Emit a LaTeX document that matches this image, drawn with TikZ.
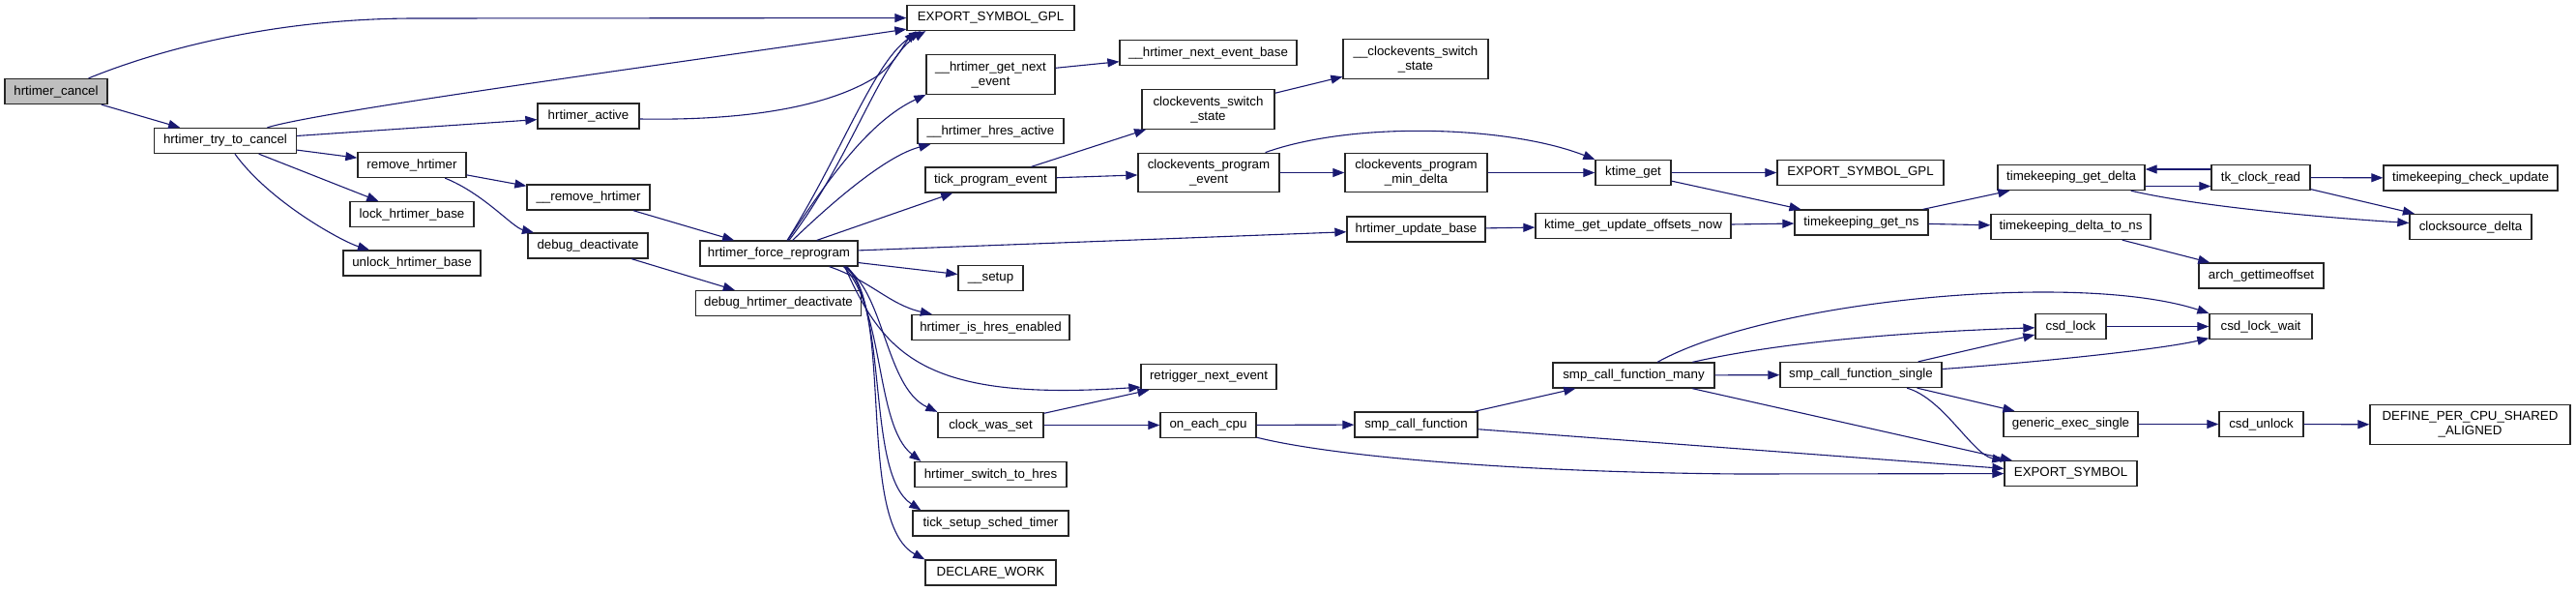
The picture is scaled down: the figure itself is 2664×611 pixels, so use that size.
\documentclass[tikz,border=0pt]{standalone}
\usepackage{fontspec}
\setmainfont{Liberation Sans}
\usetikzlibrary{arrows.meta}
\definecolor{edgeblue}{RGB}{25,25,112}
\begin{document}
\begin{tikzpicture}[x=1pt,y=-1pt,>={Triangle[length=12pt,width=9pt]},font=\fontsize{13.3}{15}\selectfont,
	fn/.style={draw=black!85,line width=1.3pt,fill=white,minimum height=26pt,inner sep=1pt,align=center},
	fntwo/.style={fn,minimum height=40.5pt},
	call/.style={->,draw=edgeblue,line width=1.1pt}]
	\useasboundingbox (0,0) rectangle (2664,611);
	% column 1-5
	\node[fn,minimum width=106pt,fill=black!25] (cancel) at (58,94.5) {hrtimer\_cancel};
	\node[fn,minimum width=147pt] (trycancel) at (233,145.5) {hrtimer\_try\_to\_cancel};
	\node[fn,minimum width=105pt] (active) at (608.5,120) {hrtimer\_active};
	\node[fn,minimum width=112pt] (remove) at (426,170.5) {remove\_hrtimer};
	\node[fn,minimum width=127pt] (removeb) at (608.5,204) {\_\_remove\_hrtimer};
	\node[fn,minimum width=128pt] (lockb) at (426,221.5) {lock\_hrtimer\_base};
	\node[fn,minimum width=124pt] (debugd) at (608,254) {debug\_deactivate};
	\node[fn,minimum width=142pt] (unlockb) at (426,272) {unlock\_hrtimer\_base};
	\node[fn,minimum width=163pt] (force) at (805.5,262) {hrtimer\_force\_reprogram};
	\node[fn,minimum width=171pt] (debughd) at (805,313.5) {debug\_hrtimer\_deactivate};
	% column 6
	\node[fn,minimum width=173pt] (esgpl) at (1024.5,18.5) {EXPORT\_SYMBOL\_GPL};
	\node[fntwo,minimum width=133pt] (getnext) at (1024.5,77) {\_\_hrtimer\_get\_next\\\_event};
	\node[fn,minimum width=151pt] (hresact) at (1024.5,135.5) {\_\_hrtimer\_hres\_active};
	\node[fn,minimum width=135pt] (tickprog) at (1024.5,186) {tick\_program\_event};
	\node[fn,minimum width=67pt] (setup) at (1024.5,287.5) {\_\_setup};
	\node[fn,minimum width=163pt] (hresen) at (1024.5,338.5) {hrtimer\_is\_hres\_enabled};
	\node[fn,minimum width=109pt] (cws) at (1024.5,439.5) {clock\_was\_set};
	\node[fn,minimum width=157pt] (switchhres) at (1024.5,490.5) {hrtimer\_switch\_to\_hres};
	\node[fn,minimum width=161pt] (ticksetup) at (1024.5,541) {tick\_setup\_sched\_timer};
	\node[fn,minimum width=135pt] (declwork) at (1024.5,592) {DECLARE\_WORK};
	% column 7-8
	\node[fn,minimum width=183pt] (nextbase) at (1249.5,54.5) {\_\_hrtimer\_next\_event\_base};
	\node[fntwo,minimum width=137pt] (cswitch) at (1249.5,113) {clockevents\_switch\\\_state};
	\node[fntwo,minimum width=146pt] (cprog) at (1250,178.5) {clockevents\_program\\\_event};
	\node[fn,minimum width=140pt] (retrig) at (1250,389.5) {retrigger\_next\_event};
	\node[fn,minimum width=99pt] (oneach) at (1249.5,439.5) {on\_each\_cpu};
	\node[fntwo,minimum width=150pt] (cswitchb) at (1464,61) {\_\_clockevents\_switch\\\_state};
	\node[fntwo,minimum width=147pt] (cmin) at (1464.5,178.5) {clockevents\_program\\\_min\_delta};
	\node[fn,minimum width=143pt] (updbase) at (1464.5,237) {hrtimer\_update\_base};
	\node[fn,minimum width=127pt] (scf) at (1464.5,439) {smp\_call\_function};
	% column 9-10
	\node[fn,minimum width=78pt] (ktime) at (1689,178.5) {ktime\_get};
	\node[fn,minimum width=202pt] (updoff) at (1689,233.5) {ktime\_get\_update\_offsets\_now};
	\node[fn,minimum width=167pt] (scfmany) at (1689.5,388) {smp\_call\_function\_many};
	\node[fn,minimum width=172pt] (esgplb) at (1924,178.5) {EXPORT\_SYMBOL\_GPL};
	\node[fn,minimum width=138pt] (tkns) at (1925,230) {timekeeping\_get\_ns};
	\node[fn,minimum width=167pt] (scfsingle) at (1924.5,387.5) {smp\_call\_function\_single};
	% column 11-13
	\node[fn,minimum width=152pt] (tkdelta) at (2142,183.5) {timekeeping\_get\_delta};
	\node[fn,minimum width=165pt] (tkdns) at (2141.5,234.5) {timekeeping\_delta\_to\_ns};
	\node[fn,minimum width=73pt] (csdlock) at (2141.5,337.5) {csd\_lock};
	\node[fn,minimum width=139pt] (genexec) at (2141.5,438.5) {generic\_exec\_single};
	\node[fn,minimum width=137pt] (es) at (2141.5,489.5) {EXPORT\_SYMBOL};
	\node[fn,minimum width=102pt] (tkread) at (2338,183.5) {tk\_clock\_read};
	\node[fn,minimum width=129pt] (archoff) at (2338.5,285) {arch\_gettimeoffset};
	\node[fn,minimum width=106pt] (csdwait) at (2338,337.5) {csd\_lock\_wait};
	\node[fn,minimum width=87pt] (csdunlock) at (2338.5,438.5) {csd\_unlock};
	\node[fn,minimum width=180pt] (tkcheck) at (2555,184) {timekeeping\_check\_update};
	\node[fn,minimum width=126pt] (csdelta) at (2555,234.5) {clocksource\_delta};
	\node[fntwo,minimum width=207pt] (defpcpu) at (2554.5,439) {DEFINE\_PER\_CPU\_SHARED\\\_ALIGNED};

	% calls
	\draw[call] (cancel) .. controls (180,45) and (300,19) .. (430,19) -- (esgpl);
	\draw[call] (cancel) -- (trycancel);
	\draw[call] (trycancel) .. controls (330,115) and (700,65) .. ([yshift=2pt]esgpl.south west);
	\draw[call] (trycancel) -- (active);
	\draw[call] (trycancel) -- (remove);
	\draw[call] (trycancel) -- (lockb);
	\draw[call] (trycancel) .. controls (280,210) and (355,250) .. (unlockb);
	\draw[call] ([yshift=-3pt]active.east) .. controls (780,125) and (860,108) .. (905,80) .. controls (925,67) and (935,45) .. ([xshift=10pt]esgpl.south west);
	\draw[call] (remove) -- (removeb);
	\draw[call] (remove) .. controls (500,200) and (530,235) .. (debugd);
	\draw[call] (removeb) -- (force);
	\draw[call] (debugd) -- (debughd);
	\draw[call] (force) .. controls (870,160) and (905,60) .. ([xshift=15pt]esgpl.south west);
	\draw[call] (force) .. controls (880,165) and (912,58) .. ([xshift=20pt]esgpl.south west);
	\draw[call] (force) .. controls (860,180) and (900,125) .. (getnext.south west);
	\draw[call] (force) .. controls (870,200) and (920,160) .. ([xshift=14pt]hresact.south west);
	\draw[call] (force) -- (tickprog);
	\draw[call] (force) -- (updbase);
	\draw[call] (force) -- (setup);
	\draw[call] ([xshift=-30pt]force.south east) .. controls (900,290) and (920,315) .. (hresen);
	\draw[call] ([xshift=-14pt]force.south east) .. controls (915,370) and (960,415) .. ([yshift=3pt]retrig.south west);
	\draw[call] ([xshift=-15pt]force.south east) .. controls (915,300) and (915,400) .. (cws.north west);
	\draw[call] ([xshift=-15pt]force.south east) .. controls (915,320) and (905,440) .. ([xshift=7pt]switchhres.north west);
	\draw[call] ([xshift=-13pt]force.south east) .. controls (920,320) and (895,490) .. ([xshift=9pt]ticksetup.north west);
	\draw[call] ([xshift=-12pt]force.south east) .. controls (925,320) and (885,540) .. (declwork.north west);
	\draw[call] (getnext) -- (nextbase);
	\draw[call] (tickprog) -- (cswitch);
	\draw[call] (tickprog) -- (cprog);
	\draw[call] (cswitch) -- (cswitchb);
	\draw[call] (cprog) -- (cmin);
	\draw[call] (cprog) .. controls (1400,125) and (1560,130) .. (ktime.north west);
	\draw[call] (cmin) -- (ktime);
	\draw[call] (ktime) -- (esgplb);
	\draw[call] (ktime) -- (tkns);
	\draw[call] (updbase) -- (updoff);
	\draw[call] (updoff) -- (tkns);
	\draw[call] (tkns) -- (tkdelta);
	\draw[call] (tkns) -- (tkdns);
	\draw[call] ([yshift=-9pt]tkdelta.east) -- ([yshift=-9pt]tkread.west);
	\draw[call] ([yshift=8.5pt]tkread.west) -- ([yshift=8.5pt]tkdelta.east);
	\draw[call] ([xshift=-15pt]tkdelta.south east) .. controls (2280,215) and (2420,226) .. (csdelta);
	\draw[call] (tkread) -- (tkcheck);
	\draw[call] (tkread) -- (csdelta);
	\draw[call] (tkdns) -- (archoff);
	\draw[call] (cws) -- (retrig);
	\draw[call] (cws) -- (oneach);
	\draw[call] (oneach) -- (scf);
	\draw[call] (oneach) .. controls (1370,470) and (1550,488) .. (1800,490) -- (es);
	\draw[call] (scf) -- (scfmany);
	\draw[call] (scf) -- (es);
	\draw[call] (scfmany) .. controls (1830,310) and (2150,280) .. (csdwait.north west);
	\draw[call] (scfmany) .. controls (1850,352) and (1980,343) .. (csdlock);
	\draw[call] (scfmany) -- (scfsingle);
	\draw[call] (scfmany) -- (es);
	\draw[call] (scfsingle) -- (csdlock);
	\draw[call] (scfsingle) .. controls (2100,375) and (2230,362) .. (csdwait);
	\draw[call] (scfsingle) -- (genexec);
	\draw[call] (scfsingle) .. controls (2010,412) and (2040,470) .. (es);
	\draw[call] (csdlock) -- (csdwait);
	\draw[call] (genexec) -- (csdunlock);
	\draw[call] (csdunlock) -- (defpcpu);
\end{tikzpicture}
\end{document}
